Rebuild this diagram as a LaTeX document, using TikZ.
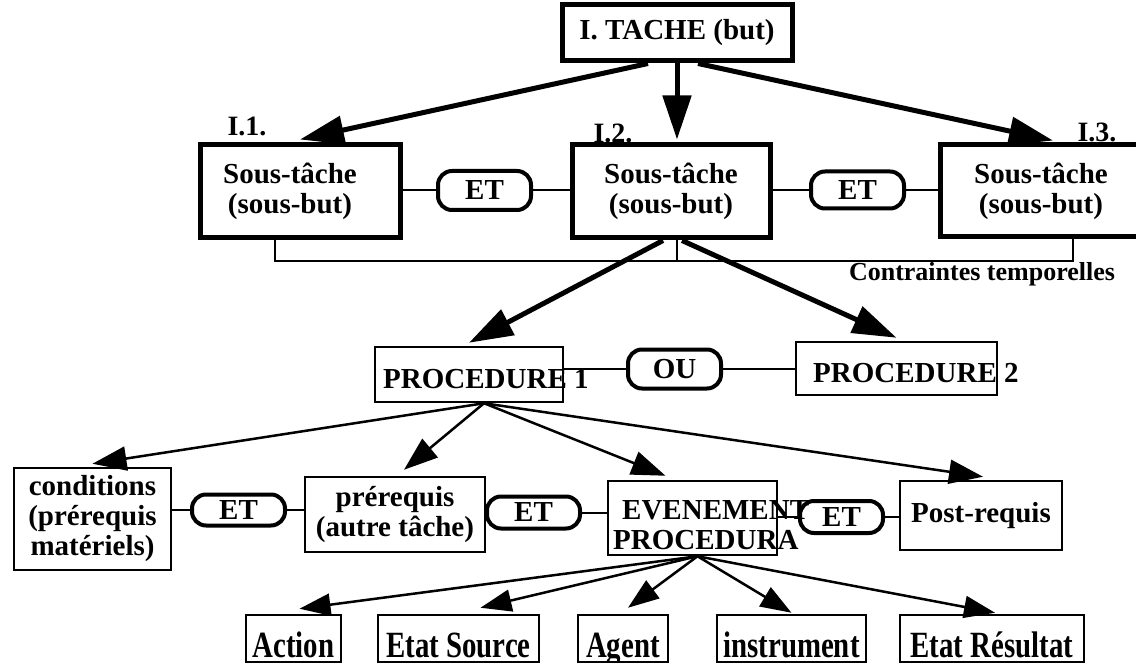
\documentclass[tikz,border=0pt]{standalone}
\usepackage{fontspec}
\setmainfont{Liberation Serif}
\usepackage{graphicx}
\usetikzlibrary{arrows.meta}
\tikzstyle{line} = [draw, line width=2.5pt, -{Triangle[length=34pt, width=24pt]}]
\tikzstyle{thin} = [draw, line width=2.5pt, -{Triangle[length=31pt, width=22pt]}]
\tikzstyle{heavy} = [draw, line width=5pt, -{Triangle[length=44pt, width=28pt]}]
\tikzstyle{link} = [draw, line width=2pt]
\tikzstyle{goal} = [rectangle, draw, line width=5pt, inner sep=0pt, align=center,
    font=\bfseries\fontsize{29}{30}\selectfont]
\tikzstyle{block} = [rectangle, draw, line width=2.5pt, inner sep=0pt, align=center,
    font=\bfseries\fontsize{29}{30}\selectfont]
\tikzstyle{pill} = [rectangle, draw, rounded corners=14pt, line width=4pt, inner sep=0pt,
    minimum width=93pt, font=\bfseries\fontsize{29}{30}\selectfont]
\tikzstyle{leaf} = [rectangle, draw, line width=2.5pt, minimum height=47pt, inner sep=0pt,
    text height=37pt, text depth=0pt, font=\bfseries\fontsize{37}{40}\selectfont]
\tikzstyle{tag} = [inner sep=0pt, anchor=base, font=\bfseries\fontsize{28}{30}\selectfont]
\tikzstyle{word} = [inner sep=0pt, anchor=base west, font=\bfseries\fontsize{29}{30}\selectfont]
\newcommand{\narrow}[1]{\scalebox{0.78}[1]{#1}}

\begin{document}
\begin{tikzpicture}[x=1pt, y=-1pt]
  \useasboundingbox (0,0) rectangle (1136,663);
  % Place task and sub-tasks
  \node [goal, minimum width=230pt, minimum height=56pt] (tache) at (677,33) {I. TACHE (but)};
  \node [goal, minimum width=200pt, minimum height=93pt] (sub1) at (300,191.5) {};
  \node [word, anchor=center, align=center] (s1text) at (290,191.5) {Sous-tâche\\(sous-but)};
  \node [goal, minimum width=198pt, minimum height=93pt] (sub2) at (671,191.5) {Sous-tâche\\(sous-but)};
  \node [goal, minimum width=202pt, minimum height=92pt] (sub3) at (1041,191) {Sous-tâche\\(sous-but)};
  \node [pill, minimum height=39pt] (and1) at (484.5,190.5) {ET};
  \node [pill, minimum height=37pt] (and2) at (857.5,190) {ET};
  \node [tag] (num1) at (247,136) {I.1.};
  \node [tag] (num2) at (613,143) {I.2.};
  \node [tag] (num3) at (1097,142) {I.3.};
  \node [tag, font=\bfseries\fontsize{26}{28}\selectfont] (temps) at (982,280) {Contraintes temporelles};
  \coordinate (cleft) at (275,261);
  \coordinate (cmid) at (677,261);
  \coordinate (cright) at (1073,261);
  % Place procedures
  \node [block, minimum width=188pt, minimum height=55pt] (proc1) at (469,374.5) {};
  \node [word] (p1text) at (383,388) {PROCEDURE 1};
  \node [block, minimum width=201pt, minimum height=53pt] (proc2) at (896.5,368.5) {};
  \node [word] (p2text) at (813,382) {PROCEDURE 2};
  \node [pill, minimum height=39pt] (or) at (674.5,369) {OU};
  % Place procedure parts
  \node [block, minimum width=157pt, minimum height=102pt] (cond) at (92.5,519) {conditions\\(prérequis\\matériels)};
  \node [pill, minimum height=31pt] (and3) at (238.5,510) {ET};
  \node [block, minimum width=180pt, minimum height=75pt] (prereq) at (395,514.5) {prérequis\\(autre tâche)};
  \node [pill, minimum height=32pt] (and4) at (533.5,512.5) {ET};
  \node [block, minimum width=169pt, minimum height=74pt] (event) at (692.5,518) {};
  \node [word, anchor=north west, align=left] (evtext) at (613,500) {\hspace*{9pt}EVENEMENT\\PROCEDURA};
  \node [pill, minimum width=83pt, minimum height=32pt] (and5) at (841.5,517) {ET};
  \node [block, minimum width=162pt, minimum height=69pt] (post) at (981,515.5) {Post-requis};
  % Place event roles
  \node [leaf, minimum width=95pt] (action) at (293.5,638.5) {\narrow{Action}};
  \node [leaf, minimum width=161pt] (source) at (458.5,638.5) {\narrow{Etat Source}};
  \node [leaf, minimum width=90pt] (agent) at (623,638.5) {\narrow{Agent}};
  \node [leaf, minimum width=149pt] (instr) at (791.5,638.5) {\narrow{instrument}};
  \node [leaf, minimum width=184pt] (result) at (992,638.5) {\narrow{Etat Résultat}};
  % Draw edges
  \path [heavy] ([xshift=-29pt]tache.south) -- ([yshift=3pt]sub1.north);
  \path [heavy] (tache.south) -- ([yshift=3pt]tache.south |- sub2.north);
  \path [heavy] ([xshift=21pt]tache.south) -- ([xshift=12pt,yshift=2pt]sub3.north);
  \path [link] (sub1.east |- and1.west) -- (and1.west);
  \path [link] (and1.east) -- (and1.east -| sub2.west);
  \path [link] (sub2.east |- and2.west) -- (and2.west);
  \path [link] (and2.east) -- (and2.east -| sub3.west);
  \path [link] (cleft |- sub1.south) -- (cleft) -- (cright) -- (cright |- sub3.south);
  \path [link] (cmid |- sub2.south) -- (cmid);
  \path [heavy] ([xshift=-8pt]sub2.south) -- ([yshift=3pt]proc1.north);
  \path [heavy] ([xshift=11pt]sub2.south) -- ([yshift=3pt]proc2.north);
  \path [link] (proc1.east |- or.west) -- (or.west);
  \path [link] (or.east) -- (or.east -| proc2.west);
  % Draw procedure edges
  \path [line] ([xshift=15pt]proc1.south) -- ([yshift=3pt]cond.north);
  \path [line] ([xshift=15pt]proc1.south) -- ([xshift=9pt,yshift=6pt]prereq.north);
  \path [line] ([xshift=15pt]proc1.south) -- ([xshift=-27pt,yshift=4pt]event.north);
  \path [line] ([xshift=15pt]proc1.south) -- ([xshift=2pt,yshift=3pt]post.north);
  \path [link] (cond.east |- and3.west) -- (and3.west);
  \path [link] (and3.east) -- (and3.east -| prereq.west);
  \path [link] (prereq.east |- and4.west) -- (and4.west);
  \path [link] (and4.east) -- (and4.east -| event.west);
  \path [link] (event.east |- and5.west) -- (and5.west);
  \path [link] (and5.east) -- (and5.east -| post.west);
  % Draw role edges
  \path [thin] ([xshift=5pt]event.south) -- ([xshift=6pt,yshift=5pt]action.north);
  \path [thin] ([xshift=5pt]event.south) -- ([xshift=22pt,yshift=6pt]source.north);
  \path [thin] ([xshift=5pt]event.south) -- ([xshift=5pt,yshift=6pt]agent.north);
  \path [thin] ([xshift=5pt]event.south) -- ([yshift=1pt]instr.north);
  \path [thin] ([xshift=5pt]event.south) -- ([xshift=3pt,yshift=1pt]result.north);
\end{tikzpicture}
\end{document}
